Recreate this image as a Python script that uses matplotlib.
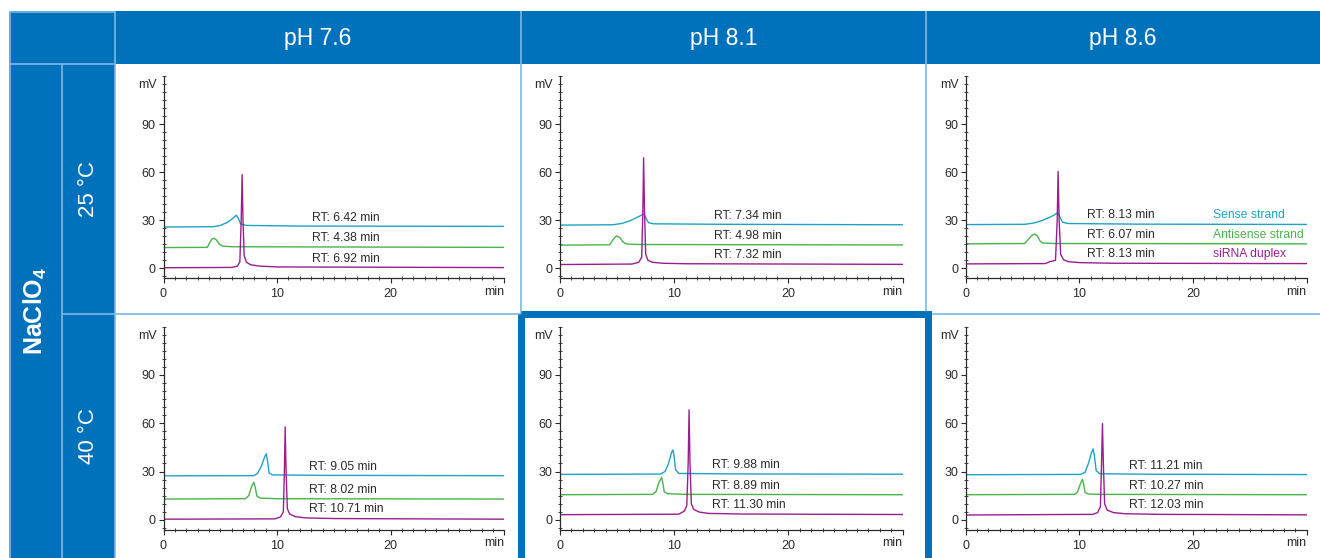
import matplotlib
matplotlib.use("Agg")
import matplotlib.pyplot as plt
from matplotlib.patches import Rectangle
from matplotlib.ticker import MultipleLocator
import numpy as np

plt.rcParams['font.family'] = ['Liberation Sans', 'DejaVu Sans']
plt.rcParams['mathtext.fontset'] = 'custom'
plt.rcParams['mathtext.rm'] = 'Liberation Sans'
plt.rcParams['mathtext.bf'] = 'Liberation Sans:bold'

# ---- table labels
ph_labels = ['pH 7.6', 'pH 8.1', 'pH 8.6']
temp_labels = ['25 °C', '40 °C']
salt_label = r'$\mathbf{NaClO}_{\mathbf{4}}$'
strand_names = ['Sense strand', 'Antisense strand', 'siRNA duplex']

# ---- chromatogram traces, (time min, signal mV)
sense_25_76 = [(0, 25.8), (4.4, 26.0), (5.0, 26.8), (5.6, 28.6), (6.1, 31.2), (6.42, 33.2),
               (6.6, 31.0), (6.8, 27.6), (7.3, 26.8), (12, 26.4), (30, 26.2)]
anti_25_76 = [(0, 13.0), (3.85, 13.1), (4.05, 15.8), (4.25, 18.3), (4.42, 18.8), (4.65, 17.8),
              (4.9, 15.2), (5.2, 13.9), (6, 13.5), (30, 13.1)]
duplex_25_76 = [(0, 0.4), (6.0, 0.6), (6.5, 1.4), (6.72, 4.0), (6.84, 30), (6.92, 58.5), (7.0, 30),
                (7.1, 8.0), (7.3, 3.8), (7.7, 2.2), (8.5, 1.4), (10, 0.9), (30, 0.5)]

sense_25_81 = [(0, 27.0), (4.6, 27.2), (5.4, 28.0), (6.1, 29.6), (6.8, 32.0), (7.34, 34.0),
               (7.5, 31.5), (7.75, 28.5), (8.2, 27.8), (14, 27.5), (30, 27.2)]
anti_25_81 = [(0, 14.5), (4.35, 14.7), (4.6, 17.5), (4.85, 19.8), (5.0, 20.2), (5.25, 19.2),
              (5.5, 16.5), (5.85, 15.2), (7, 14.9), (30, 14.6)]
duplex_25_81 = [(0, 2.4), (6.3, 2.7), (6.9, 3.8), (7.15, 7.0), (7.25, 35), (7.32, 69), (7.4, 35),
                (7.5, 9.0), (7.7, 5.0), (8.1, 3.8), (9, 3.2), (11, 2.9), (30, 2.5)]

sense_25_86 = [(0, 27.3), (5.2, 27.5), (6.0, 28.3), (6.7, 29.8), (7.5, 32.2), (8.13, 34.8),
               (8.3, 32.0), (8.5, 28.8), (9, 28.0), (15, 27.6), (30, 27.4)]
anti_25_86 = [(0, 15.3), (5.2, 15.5), (5.5, 18.0), (5.85, 20.8), (6.07, 21.4), (6.3, 20.2),
              (6.55, 17.0), (6.8, 15.8), (8, 15.5), (30, 15.3)]
duplex_25_86 = [(0, 2.8), (7.0, 3.0), (7.4, 4.2), (7.9, 5.0), (8.05, 30), (8.13, 60.5), (8.22, 30),
                (8.35, 9.0), (8.6, 5.5), (9, 4.2), (10, 3.6), (13, 3.2), (30, 3.0)]

sense_40_76 = [(0, 27.3), (7.9, 27.4), (8.25, 28.5), (8.6, 33.0), (8.9, 39.0), (9.05, 41.0),
               (9.15, 37.0), (9.3, 29.0), (9.6, 27.9), (14, 27.6), (30, 27.4)]
anti_40_76 = [(0, 12.9), (7.2, 13.1), (7.5, 15.0), (7.75, 20.5), (7.95, 23.3), (8.08, 20.0),
              (8.22, 14.8), (8.5, 13.5), (10, 13.1), (30, 12.9)]
duplex_40_76 = [(0, 0.4), (9.8, 0.6), (10.3, 1.8), (10.55, 5.0), (10.64, 30), (10.71, 57.7),
                (10.79, 30), (10.9, 7.0), (11.1, 3.6), (11.6, 2.0), (12.5, 1.2), (15, 0.8), (30, 0.4)]

sense_40_81 = [(0, 28.2), (8.8, 28.4), (9.2, 30.0), (9.5, 35.0), (9.75, 41.5), (9.88, 43.4),
               (9.98, 40.0), (10.12, 31.0), (10.4, 28.8), (15, 28.5), (30, 28.3)]
anti_40_81 = [(0, 15.6), (8.1, 15.8), (8.4, 17.5), (8.65, 23.0), (8.89, 26.4), (9.0, 23.0),
              (9.12, 17.5), (9.4, 16.2), (11, 15.8), (30, 15.6)]
duplex_40_81 = [(0, 3.2), (10.4, 3.5), (10.9, 5.5), (11.1, 9.0), (11.22, 35), (11.30, 68.3),
                (11.38, 35), (11.5, 10), (11.7, 6.5), (12.2, 4.8), (13, 4.0), (16, 3.6), (30, 3.3)]

sense_40_86 = [(0, 28.0), (10.1, 28.2), (10.5, 29.5), (10.8, 35.0), (11.08, 42.0), (11.21, 44.0),
               (11.32, 40.0), (11.48, 30.5), (11.8, 28.6), (16, 28.3), (30, 28.1)]
anti_40_86 = [(0, 15.6), (9.6, 15.8), (9.85, 17.5), (10.1, 22.5), (10.27, 25.2), (10.38, 22.0),
              (10.5, 17.0), (10.8, 16.0), (12, 15.8), (30, 15.6)]
duplex_40_86 = [(0, 3.0), (11.2, 3.4), (11.6, 4.5), (11.85, 8.0), (11.95, 35), (12.03, 59.7),
                (12.11, 35), (12.22, 10), (12.45, 6.0), (13, 4.5), (14, 3.8), (17, 3.4), (30, 3.1)]

# retention times printed in each panel (sense, antisense, duplex)
rt_25 = [[6.42, 4.38, 6.92], [7.34, 4.98, 7.32], [8.13, 6.07, 8.13]]
rt_40 = [[9.05, 8.02, 10.71], [9.88, 8.89, 11.30], [11.21, 10.27, 12.03]]

panels = [
    [(sense_25_76, anti_25_76, duplex_25_76), (sense_25_81, anti_25_81, duplex_25_81),
     (sense_25_86, anti_25_86, duplex_25_86)],
    [(sense_40_76, anti_40_76, duplex_40_76), (sense_40_81, anti_40_81, duplex_40_81),
     (sense_40_86, anti_40_86, duplex_40_86)],
]
rts = [rt_25, rt_40]

# ---- styling / layout (pixels)
W, H = 1320, 558
DARK = '#0071BB'
LIGHT = '#7DB8E2'
trace_colors = ['#1CA3C7', '#47B54A', '#9A1F8E']
text_col = '#2b2b2b'
col_x = [(163.5, 504.3), (560, 902.7), (965.7, 1306.7)]
row_y = [(76, 278), (326.5, 529.5)]
rt_label_x = [[13.05, 13.5, 10.7], [12.85, 13.3, 14.4]]
legend_x = 21.75

fig = plt.figure(figsize=(W / 100, H / 100), dpi=100)
bg = fig.add_axes([0, 0, 1, 1])
bg.set_xlim(0, W)
bg.set_ylim(H, 0)
bg.axis('off')


def box(x0, y0, x1, y1, **kw):
    bg.add_patch(Rectangle((x0, y0), x1 - x0, y1 - y0, **kw))


def line(xs, ys, **kw):
    bg.plot(xs, ys, color=LIGHT, lw=1.2, solid_capstyle='butt', **kw)


# blue table frame
box(9, 11, 115, 64, facecolor=DARK, edgecolor='none')
box(115, 11, W, 64, facecolor=DARK, edgecolor='none')
box(9, 64, 115, H, facecolor=DARK, edgecolor='none')

line([9.5, 9.5], [11, H])
line([9, 115], [11.5, 11.5])
line([9, 115], [64, 64])
line([61.5, 61.5], [64, H])
line([115, 115], [11, H])
line([62, W], [313.5, 313.5])
line([521, 521], [11, H])
line([926, 926], [11, H])

for i, lab in enumerate(ph_labels):
    xa = 115 if i == 0 else [521, 926][i - 1]
    xb = [521, 926, W][i]
    bg.text((xa + xb) / 2, 38, lab, color='white', fontsize=16.5, ha='center', va='center')
bg.text(88.5, 189, temp_labels[0], color='white', fontsize=16, rotation=90, ha='center', va='center')
bg.text(88.5, 436, temp_labels[1], color='white', fontsize=16, rotation=90, ha='center', va='center')
bg.text(35, 311, salt_label, color='white', fontsize=18, rotation=90, ha='center', va='center')

# highlighted cell (40 °C, pH 8.1)
box(520.5, 313.5, 928, 575, facecolor='none', edgecolor=DARK, lw=5.0, zorder=5)

for r in range(2):
    for c in range(3):
        x0, x1 = col_x[c]
        y0, y1 = row_y[r]
        ax = fig.add_axes([x0 / W, 1 - y1 / H, (x1 - x0) / W, (y1 - y0) / H])
        ax.set_facecolor('none')
        ax.set_xlim(0, 30)
        ax.set_ylim(-6, 120)
        for trace, colr, rt in zip(panels[r][c], trace_colors, rts[r][c]):
            t, mv = np.array(trace).T
            ax.plot(t, mv, color=colr, lw=1.0)
            base = np.interp(rt_label_x[r][c], t, mv)
            ax.text(rt_label_x[r][c], base + 5.3, f'RT: {rt:.2f} min', fontsize=8.7,
                    color=text_col, ha='left', va='center')
            if r == 0 and c == 2:
                ax.text(legend_x, base + 5.3, strand_names[trace_colors.index(colr)],
                        fontsize=8.7, color=colr, ha='left', va='center')

        ax.set_xticks([0, 10, 20, 30])
        ax.set_xticklabels(['0', '10', '20', ''])
        ax.set_yticks([0, 30, 60, 90])
        ax.xaxis.set_minor_locator(MultipleLocator(1))
        ax.yaxis.set_minor_locator(MultipleLocator(5))
        ax.tick_params(which='major', length=3.5, width=0.8, direction='out',
                       labelsize=9, colors=text_col)
        ax.tick_params(which='minor', length=2.2, width=0.6, direction='inout', colors=text_col)
        ax.tick_params(axis='x', which='major', pad=4)
        ax.tick_params(axis='y', which='major', pad=2)
        for s in ['top', 'right']:
            ax.spines[s].set_visible(False)
        for s in ['left', 'bottom']:
            ax.spines[s].set_linewidth(0.9)
            ax.spines[s].set_color(text_col)
        ax.annotate('min', xy=(1, 0), xycoords='axes fraction', xytext=(0, -10),
                    textcoords='offset points', ha='right', va='center', fontsize=9,
                    color=text_col)
        ax.annotate('mV', xy=(0, 1), xycoords='axes fraction', xytext=(-5, -6.5),
                    textcoords='offset points', ha='right', va='center', fontsize=9,
                    color=text_col)

fig.savefig('out.png', dpi=100)
